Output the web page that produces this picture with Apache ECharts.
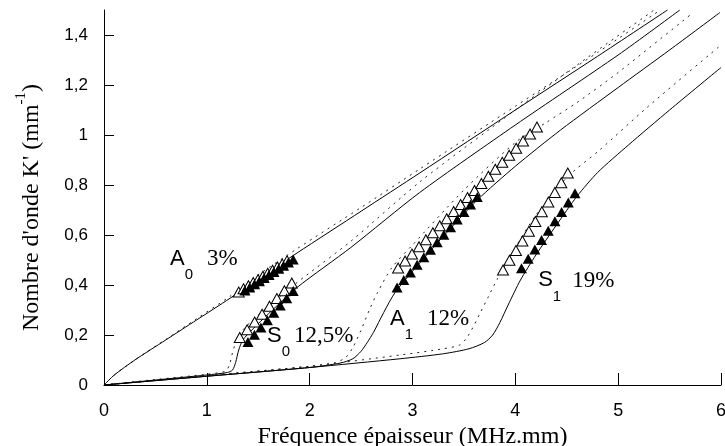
<!DOCTYPE html>
<html>
<head>
<meta charset="utf-8">
<script src="https://cdn.jsdelivr.net/npm/echarts@6/dist/echarts.min.js"></script>
<style>
html, body { margin: 0; padding: 0; background: #fff; }
#chart { width: 725px; height: 446px; }
</style>
</head>
<body>
<div id="chart"></div>
<script>
// axis ticks
var xTicks = [0, 1, 2, 3, 4, 5, 6];
var yTicks = [0, 0.2, 0.4, 0.6, 0.8, 1, 1.2, 1.4];

// theory curves, [f.e, K']  (solid / dotted)
var a0Solid = [[0,0],[0.1,0.04],[0.3,0.1],[0.6,0.18],[0.9,0.26],[1.226,0.347],[1.5,0.425],[1.877,0.528],[2.5,0.695],[3.07,0.848],[4.0,1.1],[4.8,1.315],[5.48,1.5]];
var a0Dotted = [[0,0],[0.1,0.04],[0.3,0.1],[0.6,0.182],[0.9,0.265],[1.226,0.355],[1.5,0.44],[1.877,0.545],[2.5,0.71],[3.07,0.864],[4.0,1.115],[4.8,1.33],[5.41,1.5]];
var s0Solid = [[0,0],[0.5,0.02],[1.0,0.04],[1.2,0.05],[1.25,0.06],[1.28,0.09],[1.31,0.14],[1.35,0.18],[1.45,0.225],[1.6,0.285],[1.877,0.39],[2.4,0.55],[3.07,0.77],[4.0,1.04],[5.0,1.32],[5.6,1.5]];
var s0Dotted = [[0,0],[0.5,0.022],[1.0,0.043],[1.18,0.055],[1.22,0.08],[1.25,0.13],[1.29,0.18],[1.35,0.22],[1.5,0.28],[1.7,0.35],[1.877,0.41],[2.4,0.575],[3.07,0.812],[4.0,1.1],[4.6,1.28],[5.35,1.5]];
var a1Solid = [[0,0],[1,0.035],[2,0.07],[2.3,0.088],[2.42,0.105],[2.5,0.135],[2.56,0.17],[2.62,0.21],[2.72,0.29],[2.83,0.37],[3.0,0.455],[3.3,0.595],[3.63,0.74],[4.0,0.875],[4.44,1.02],[5.0,1.19],[5.5,1.34],[5.99,1.49]];
var a1Dotted = [[0,0],[1,0.037],[2,0.075],[2.25,0.09],[2.35,0.11],[2.42,0.15],[2.5,0.22],[2.58,0.3],[2.66,0.37],[2.8,0.47],[3.0,0.56],[3.5,0.78],[4.0,0.97],[4.3,1.05],[4.6,1.13],[5.0,1.25],[5.73,1.49]];
var s1Solid = [[0,0],[1,0.035],[2,0.07],[2.88,0.105],[3.3,0.125],[3.55,0.145],[3.7,0.17],[3.78,0.2],[3.85,0.25],[3.93,0.32],[4.05,0.42],[4.2,0.52],[4.4,0.64],[4.6,0.755],[4.8,0.85],[5.1,0.96],[5.5,1.1],[6.0,1.27]];
var s1Dotted = [[0,0],[1,0.038],[2,0.075],[2.88,0.12],[3.3,0.145],[3.46,0.16],[3.53,0.19],[3.6,0.24],[3.66,0.29],[3.74,0.355],[3.82,0.42],[4.0,0.55],[4.2,0.68],[4.5,0.83],[4.82,0.94],[5.28,1.11],[6.0,1.36]];

// measured points (open / filled triangles)
var a0Open = [[1.31,0.372],[1.357,0.385],[1.404,0.397],[1.451,0.41],[1.498,0.422],[1.545,0.435],[1.592,0.447],[1.639,0.459],[1.686,0.472],[1.733,0.484],[1.78,0.497]];
var a0Filled = [[1.37,0.378],[1.417,0.39],[1.464,0.403],[1.511,0.415],[1.558,0.428],[1.605,0.44],[1.652,0.452],[1.699,0.465],[1.746,0.477],[1.793,0.49],[1.84,0.502]];
var s0Open = [[1.32,0.19],[1.392,0.221],[1.465,0.252],[1.537,0.283],[1.609,0.315],[1.681,0.346],[1.754,0.377],[1.826,0.408]];
var s0Filled = [[1.40,0.172],[1.463,0.201],[1.526,0.23],[1.589,0.259],[1.651,0.289],[1.714,0.318],[1.777,0.347],[1.84,0.376]];
var a1Open = [[2.86,0.468],[2.928,0.496],[2.995,0.524],[3.063,0.553],[3.13,0.581],[3.198,0.609],[3.265,0.637],[3.333,0.665],[3.4,0.694],[3.468,0.722],[3.535,0.75],[3.603,0.778],[3.67,0.806],[3.738,0.835],[3.805,0.863],[3.873,0.891],[3.94,0.919],[4.008,0.947],[4.075,0.976],[4.143,1.004],[4.21,1.032]];
var a1Filled = [[2.85,0.39],[2.915,0.42],[2.98,0.45],[3.045,0.481],[3.11,0.511],[3.175,0.541],[3.24,0.571],[3.305,0.601],[3.37,0.631],[3.435,0.662],[3.5,0.692],[3.565,0.722],[3.63,0.752]];
var s1Open = [[3.88,0.46],[3.943,0.499],[4.006,0.538],[4.069,0.576],[4.132,0.615],[4.195,0.654],[4.258,0.693],[4.321,0.732],[4.384,0.77],[4.447,0.809],[4.51,0.848]];
var s1Filled = [[4.06,0.467],[4.125,0.505],[4.19,0.542],[4.255,0.58],[4.32,0.617],[4.385,0.655],[4.45,0.692],[4.515,0.73],[4.58,0.767]];

// mode labels: letter, index, attenuation
var modeNames = [['A', '0', '3%'], ['S', '0', '12,5%'], ['A', '1', '12%'], ['S', '1', '19%']];
// where each label sits (data coords of its top-left) and gap before the %
var labelAt = [[0.642, 0.55], [1.586, 0.242], [2.782, 0.31], [4.222, 0.464]];
var labelGap = [14, 4, 14, 11];

var myChart = echarts.init(document.getElementById('chart'), null, { renderer : 'canvas' });

function curve(data, dotted) {
	return {
		type : 'line',
		data : data,
		symbol : 'none',
		smooth : 0.25,
		silent : true,
		lineStyle : {
			color : dotted ? '#222' : '#000',
			width : 1,
			type : dotted ? [2, 5] : 'solid'
		},
		z : 2
	};
}

function marks(data, filled) {
	return {
		type : 'scatter',
		data : data,
		symbol : 'triangle',
		symbolSize : [11, 10],
		silent : true,
		itemStyle : {
			color : filled ? '#000' : '#fff',
			borderColor : '#000',
			borderWidth : filled ? 0 : 1,
			opacity : 1
		},
		z : filled ? 4 : 3
	};
}

var labelSeries = {
	type : 'scatter',
	symbolSize : 0,
	silent : true,
	z : 5,
	itemStyle : { opacity : 1 },
	data : modeNames.map(function(l, i) {
		return { value : labelAt[i], idx : i };
	}),
	label : {
		show : true,
		position : [0, 0],
		opacity : 1,
		formatter : function(p) {
			var l = modeNames[p.data.idx];
			return '{m|' + l[0] + '}{sub|' + l[1] + '}{g' + p.data.idx + '|' + l[2] + '}';
		},
		rich : (function() {
			var r = {
				m : { fontFamily : 'Liberation Sans', fontSize : 22, lineHeight : 22, verticalAlign : 'top', color : '#000' },
				sub : { fontFamily : 'Liberation Sans', fontSize : 15, lineHeight : 15, verticalAlign : 'top', padding : [20, 0, 0, 0], color : '#000' }
			};
			for (var i = 0; i < labelGap.length; i++) {
				r['g' + i] = { fontFamily : 'Liberation Serif', fontSize : 23, lineHeight : 22, verticalAlign : 'top', padding : [0, 0, 0, labelGap[i]], color : '#000' };
			}
			return r;
		})()
	}
};

var option = {
	animation : false,
	backgroundColor : '#fff',
	grid : {
		left : 104,
		right : 4,
		top : 10,
		bottom : 61,
		containLabel : false,
		outerBoundsMode : 'none'
	},
	xAxis : {
		type : 'value',
		min : 0,
		max : 6,
		interval : 1,
		name : 'Fréquence épaisseur (MHz.mm)',
		nameLocation : 'middle',
		nameGap : 32,
		nameTextStyle : { fontFamily : 'Liberation Serif', fontSize : 24, color : '#000' },
		axisLine : { lineStyle : { color : '#000', width : 1 } },
		axisTick : { inside : true, length : 12, lineStyle : { color : '#000' }, customValues : xTicks },
		axisLabel : { margin : 17, fontFamily : 'Liberation Sans', fontSize : 18, color : '#000', customValues : xTicks },
		splitLine : { show : false }
	},
	yAxis : {
		type : 'value',
		min : 0,
		max : 1.5,
		name : "{n|Nombre d'onde K' (mm}{sup|-1}{n|)}",
		nameLocation : 'middle',
		nameRotate : 90,
		nameGap : 66,
		nameTextStyle : {
			color : '#000',
			padding : [0, 20, 0, 0],
			rich : {
				n : { fontFamily : 'Liberation Serif', fontSize : 24, lineHeight : 24, verticalAlign : 'top', padding : [6, 0, 0, 0], color : '#000' },
				sup : { fontFamily : 'Liberation Serif', fontSize : 15, lineHeight : 15, verticalAlign : 'top', color : '#000' }
			}
		},
		axisLine : { show : true, lineStyle : { color : '#000', width : 1 } },
		axisTick : { show : true, inside : true, length : 10, lineStyle : { color : '#000' }, customValues : yTicks },
		axisLabel : {
			margin : 16,
			fontFamily : 'Liberation Sans',
			fontSize : 17,
			color : '#000',
			customValues : yTicks,
			formatter : function(v) { return String(v).replace('.', ','); }
		},
		splitLine : { show : false }
	},
	series : [
		curve(a0Dotted, true), curve(a0Solid, false),
		curve(s0Dotted, true), curve(s0Solid, false),
		curve(a1Dotted, true), curve(a1Solid, false),
		curve(s1Dotted, true), curve(s1Solid, false),
		marks(a0Open, false), marks(a0Filled, true),
		marks(s0Open, false), marks(s0Filled, true),
		marks(a1Open, false), marks(a1Filled, true),
		marks(s1Open, false), marks(s1Filled, true),
		labelSeries
	]
};

myChart.setOption(option);
</script>
</body>
</html>
